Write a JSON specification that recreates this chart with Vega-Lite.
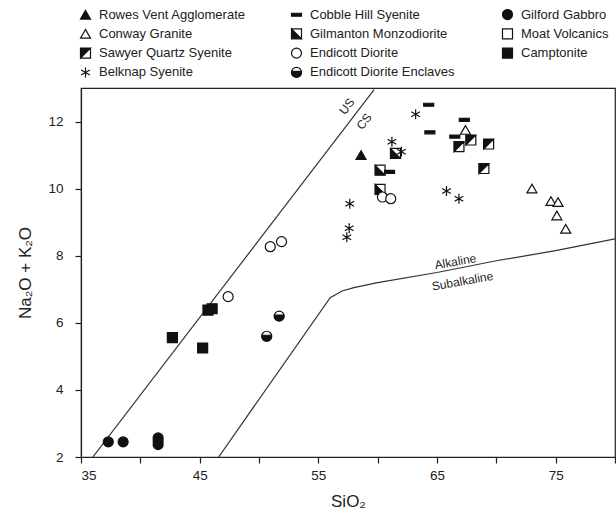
{
  "$schema": "https://vega.github.io/schema/vega-lite/v6.json",
  "autosize": {"type": "none"},
  "width": 534,
  "height": 369,
  "padding": {"left": 81, "top": 88, "right": 1, "bottom": 60},
  "background": "white",
  "config": {
    "view": {"stroke": "#222", "strokeWidth": 1.2},
    "font": "Liberation Sans",
    "axis": {"grid": false, "domainColor": "#222", "tickColor": "#222", "labelColor": "#222", "titleColor": "#222", "labelFont": "Liberation Sans", "titleFont": "Liberation Sans", "labelFontSize": 13.5, "titleFontSize": 17, "titleFontWeight": "normal", "tickSize": 6, "domainWidth": 1.2, "tickWidth": 1.2},
    "legend": {"title": null, "orient": "none", "legendX": -2, "legendY": -80, "columns": 3, "gridAlign": "all", "columnPadding": 43, "rowPadding": 4.3, "labelFontSize": 13, "labelFont": "Liberation Sans", "labelColor": "#222", "labelOffset": 7, "symbolSize": 100, "symbolStrokeWidth": 1.2, "padding": 0}
  },
  "datasets": {
    "pts": [
      {"g": "Rowes Vent Agglomerate", "x": 58.6, "y": 11.0},
      {"g": "Conway Granite", "x": 67.4, "y": 11.75},
      {"g": "Conway Granite", "x": 73.0, "y": 10.0},
      {"g": "Conway Granite", "x": 74.6, "y": 9.63},
      {"g": "Conway Granite", "x": 75.2, "y": 9.6},
      {"g": "Conway Granite", "x": 75.1, "y": 9.2},
      {"g": "Conway Granite", "x": 75.85, "y": 8.8},
      {"g": "Sawyer Quartz Syenite", "x": 66.85, "y": 11.25},
      {"g": "Sawyer Quartz Syenite", "x": 67.85, "y": 11.45},
      {"g": "Sawyer Quartz Syenite", "x": 69.35, "y": 11.33},
      {"g": "Sawyer Quartz Syenite", "x": 68.95, "y": 10.6},
      {"g": "Belknap Syenite", "x": 63.2, "y": 12.22},
      {"g": "Belknap Syenite", "x": 61.2, "y": 11.4},
      {"g": "Belknap Syenite", "x": 62.0, "y": 11.1},
      {"g": "Belknap Syenite", "x": 57.65, "y": 9.55},
      {"g": "Belknap Syenite", "x": 57.6, "y": 8.82},
      {"g": "Belknap Syenite", "x": 57.4, "y": 8.55},
      {"g": "Belknap Syenite", "x": 65.8, "y": 9.93},
      {"g": "Belknap Syenite", "x": 66.85, "y": 9.7},
      {"g": "Cobble Hill Syenite", "x": 64.3, "y": 12.5},
      {"g": "Cobble Hill Syenite", "x": 64.4, "y": 11.68},
      {"g": "Cobble Hill Syenite", "x": 61.0, "y": 10.5},
      {"g": "Cobble Hill Syenite", "x": 66.5, "y": 11.55},
      {"g": "Cobble Hill Syenite", "x": 67.3, "y": 12.05},
      {"g": "Gilmanton Monzodiorite", "x": 60.2, "y": 10.55},
      {"g": "Gilmanton Monzodiorite", "x": 60.2, "y": 9.98},
      {"g": "Gilmanton Monzodiorite", "x": 61.5, "y": 11.05},
      {"g": "Endicott Diorite", "x": 47.4, "y": 6.78},
      {"g": "Endicott Diorite", "x": 50.95, "y": 8.27},
      {"g": "Endicott Diorite", "x": 51.9, "y": 8.42},
      {"g": "Endicott Diorite", "x": 60.4, "y": 9.75},
      {"g": "Endicott Diorite", "x": 61.1, "y": 9.7},
      {"g": "Endicott Diorite Enclaves", "x": 50.65, "y": 5.6},
      {"g": "Endicott Diorite Enclaves", "x": 51.7, "y": 6.2},
      {"g": "Gilford Gabbro", "x": 37.3, "y": 2.45},
      {"g": "Gilford Gabbro", "x": 38.55, "y": 2.45},
      {"g": "Gilford Gabbro", "x": 41.5, "y": 2.57},
      {"g": "Gilford Gabbro", "x": 41.5, "y": 2.47},
      {"g": "Gilford Gabbro", "x": 41.5, "y": 2.37},
      {"g": "Camptonite", "x": 42.7, "y": 5.56},
      {"g": "Camptonite", "x": 45.25, "y": 5.25},
      {"g": "Camptonite", "x": 45.7, "y": 6.38},
      {"g": "Camptonite", "x": 46.05, "y": 6.42}
    ]
  },
  "layer": [
    {
      "data": {"values": [
        {"line": "US", "x": 36.0, "y": 2.0},
        {"line": "US", "x": 59.7, "y": 12.95},
        {"line": "AS", "x": 46.6, "y": 2.0},
        {"line": "AS", "x": 56.0, "y": 6.75},
        {"line": "AS", "x": 57.0, "y": 6.95},
        {"line": "AS", "x": 58.0, "y": 7.05},
        {"line": "AS", "x": 60.0, "y": 7.2},
        {"line": "AS", "x": 65.0, "y": 7.5},
        {"line": "AS", "x": 70.0, "y": 7.85},
        {"line": "AS", "x": 75.0, "y": 8.15},
        {"line": "AS", "x": 80.0, "y": 8.5}
      ]},
      "mark": {"type": "line", "color": "#333", "strokeWidth": 1.2, "clip": true},
      "encoding": {
        "x": {"field": "x", "type": "quantitative", "scale": {"domain": [35, 80], "nice": false, "zero": false},
          "axis": {"values": [35, 40, 45, 50, 55, 60, 65, 70, 75, 80], "labelExpr": "datum.value % 10 == 5 ? datum.label : ''", "title": "SiO₂", "labelPadding": 5, "titlePadding": 12}},
        "y": {"field": "y", "type": "quantitative", "scale": {"domain": [2, 13], "nice": false, "zero": false},
          "axis": {"values": [2, 3, 4, 5, 6, 7, 8, 9, 10, 11, 12, 13], "labelExpr": "datum.value % 2 == 0 && datum.value < 13 ? datum.label : ''", "title": "Na₂O + K₂O", "labelPadding": 12, "titlePadding": 13}},
        "detail": {"field": "line", "type": "nominal"}
      }
    },
    {
      "data": {"name": "pts"},
      "mark": {"type": "point", "filled": true, "strokeWidth": 1.2, "opacity": 1, "size": 100},
      "encoding": {
        "x": {"field": "x", "type": "quantitative"},
        "y": {"field": "y", "type": "quantitative"},
        "shape": {"field": "g", "type": "nominal",
          "scale": {
            "domain": ["Rowes Vent Agglomerate", "Conway Granite", "Sawyer Quartz Syenite", "Belknap Syenite", "Cobble Hill Syenite", "Gilmanton Monzodiorite", "Endicott Diorite", "Endicott Diorite Enclaves", "Gilford Gabbro", "Moat Volcanics", "Camptonite"],
            "range": ["triangle-up", "triangle-up", "M-1,-1L1,-1L1,1L-1,1ZM-1,-1L-1,1L1,1L1,-1ZM-1,-1L1,-1L-1,1Z", "M0,-1L0,1M-0.87,-0.5L0.87,0.5M-0.87,0.5L0.87,-0.5", "M-1,-0.3L1,-0.3L1,0.3L-1,0.3Z", "M-1,-1L1,-1L1,1L-1,1ZM-1,-1L-1,1L1,1L1,-1ZM-1,-1L1,1L-1,1Z", "circle", "M-1,0A1,1,0,1,1,1,0A1,1,0,1,1,-1,0ZM-1,0A1,1,0,1,0,1,0A1,1,0,1,0,-1,0ZM-0.98,-0.2A1,1,0,1,0,0.98,-0.2Z", "circle", "square", "square"]
          }
        },
        "fill": {"field": "g", "type": "nominal",
          "scale": {
            "domain": ["Rowes Vent Agglomerate", "Conway Granite", "Sawyer Quartz Syenite", "Belknap Syenite", "Cobble Hill Syenite", "Gilmanton Monzodiorite", "Endicott Diorite", "Endicott Diorite Enclaves", "Gilford Gabbro", "Moat Volcanics", "Camptonite"],
            "range": ["#111", "white", "#111", "#111", "#111", "#111", "white", "#111", "#111", "white", "#111"]
          }
        },
        "stroke": {"field": "g", "type": "nominal",
          "scale": {
            "domain": ["Rowes Vent Agglomerate", "Conway Granite", "Sawyer Quartz Syenite", "Belknap Syenite", "Cobble Hill Syenite", "Gilmanton Monzodiorite", "Endicott Diorite", "Endicott Diorite Enclaves", "Gilford Gabbro", "Moat Volcanics", "Camptonite"],
            "range": ["#111", "#111", "#111", "#111", "#111", "#111", "#111", "#111", "#111", "#111", "#111"]
          }
        }
      }
    },
    {
      "data": {"values": [{"t": "US", "x": 57.4, "y": 12.45}, {"t": "CS", "x": 58.85, "y": 12.0}]},
      "mark": {"type": "text", "angle": -52.7, "fontSize": 12, "font": "Liberation Sans", "color": "#222"},
      "encoding": {"x": {"field": "x", "type": "quantitative"}, "y": {"field": "y", "type": "quantitative"}, "text": {"field": "t"}}
    },
    {
      "data": {"values": [{"t": "Alkaline", "x": 66.55, "y": 7.82}, {"t": "Subalkaline", "x": 67.15, "y": 7.24}]},
      "mark": {"type": "text", "angle": -10, "fontSize": 12, "font": "Liberation Sans", "color": "#222"},
      "encoding": {"x": {"field": "x", "type": "quantitative"}, "y": {"field": "y", "type": "quantitative"}, "text": {"field": "t"}}
    }
  ]
}
